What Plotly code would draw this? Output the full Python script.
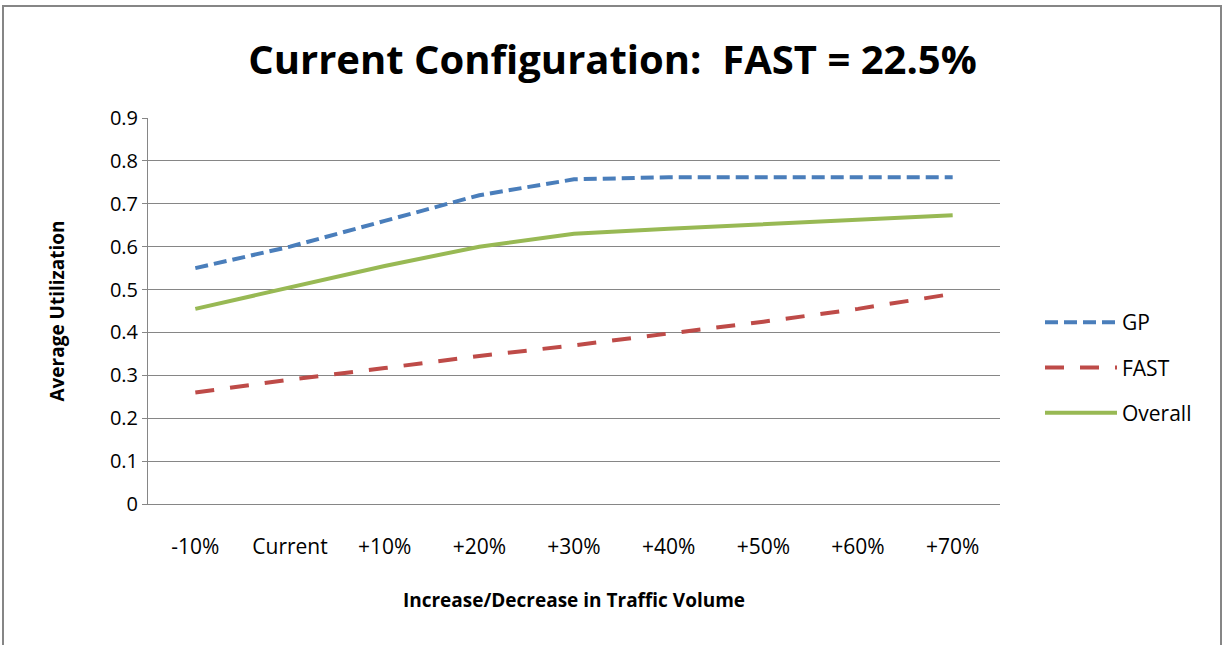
import plotly.graph_objects as go

categories = ["-10%", "Current", "+10%", "+20%", "+30%", "+40%", "+50%", "+60%", "+70%"]
gp = [0.550, 0.600, 0.660, 0.720, 0.757, 0.762, 0.762, 0.762, 0.762]
fast = [0.260, 0.290, 0.317, 0.345, 0.370, 0.397, 0.425, 0.455, 0.490]
overall = [0.455, 0.505, 0.555, 0.600, 0.630, 0.642, 0.652, 0.663, 0.673]
y_ticks = [0, 0.1, 0.2, 0.3, 0.4, 0.5, 0.6, 0.7, 0.8, 0.9]

FONT = "Open Sans, sans-serif"
W, H = 1225, 645
L, R, T, B = 148, 225, 118, 141
pw, ph = W - L - R, H - T - B

fig = go.Figure()
fig.add_trace(go.Scatter(x=categories, y=gp, name="GP", mode="lines", legendgroup="a",
                         line=dict(color="#4a7ebb", width=4, dash="13px,6px")))
fig.add_trace(go.Scatter(x=categories, y=fast, name="FAST", mode="lines", legendgroup="b",
                         line=dict(color="#be4b48", width=4, dash="19px,16px")))
fig.add_trace(go.Scatter(x=categories, y=overall, name="Overall", mode="lines", legendgroup="c",
                         line=dict(color="#98b954", width=4)))

fig.update_layout(
    width=W, height=H,
    margin=dict(l=L, r=R, t=T, b=B),
    paper_bgcolor="white", plot_bgcolor="white",
    font=dict(family=FONT, size=20, color="black"),
    title=dict(text="<b>Current Configuration:  FAST = 22.5%</b>", x=0.5, xanchor="center",
               y=1 - 60 / H, yanchor="middle", font=dict(size=40, family=FONT)),
    xaxis=dict(showgrid=False, showline=True, linecolor="#868686", linewidth=1,
               ticks="", tickfont=dict(size=21), range=[-0.5, 8.5], ticklabelstandoff=24,
               title=dict(text="<b>Increase/Decrease in Traffic Volume</b>", standoff=34,
                          font=dict(size=19))),
    yaxis=dict(range=[0, 0.9], tickvals=y_ticks, ticktext=[f"{v:g}" for v in y_ticks],
               showgrid=True, gridcolor="#868686", gridwidth=1,
               showline=True, linecolor="#868686", linewidth=1,
               ticks="outside", ticklen=5, tickcolor="#868686", zeroline=False,
               tickfont=dict(size=20),
               title=dict(text="<b>Average Utilization</b>", standoff=40, font=dict(size=19))),
    legend=dict(x=(1040 - L) / pw, xanchor="left", y=(H - B - 302) / ph, yanchor="top",
                font=dict(size=21), tracegroupgap=15, itemwidth=72, bgcolor="rgba(0,0,0,0)"),
    shapes=[dict(type="rect", xref="paper", yref="paper",
                 x0=(3 - L) / pw, x1=(1221 - L) / pw,
                 y0=(H - B - 660) / ph, y1=(H - B - 6) / ph,
                 line=dict(color="#868686", width=2), fillcolor="rgba(0,0,0,0)", layer="below")],
)

fig.write_html("out.html", config={"displayModeBar": False},
               post_script="document.body.style.margin='0';")
